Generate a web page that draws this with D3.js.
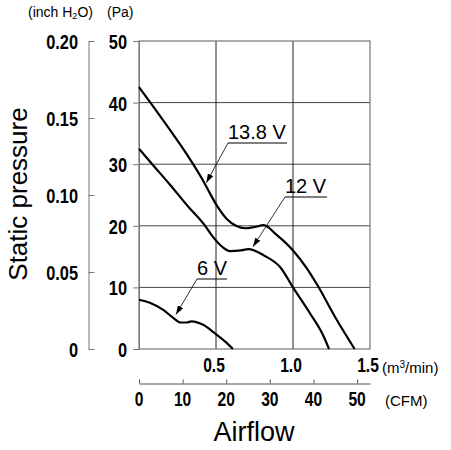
<!DOCTYPE html>
<html>
<head>
<meta charset="utf-8">
<script src="https://cdn.jsdelivr.net/npm/d3@7"></script>
<style>
body { margin: 0; background: #fff; }
text { font-family: "Liberation Sans", Arial, sans-serif; fill: #000; }
</style>
</head>
<body>
<svg id="chart" width="451" height="450"></svg>
<script>
// airflow in m3/min, static pressure in Pa
var airflow138 = [0, 0.1, 0.2, 0.3, 0.41, 0.46, 0.51, 0.57, 0.63, 0.69, 0.75, 0.81, 0.89, 1.0, 1.09, 1.16, 1.28, 1.40];
var pressure138 = [42.5, 39.1, 35.6, 32.0, 27.6, 25.3, 23.1, 21.1, 20.0, 19.6, 19.8, 20.1, 18.6, 16.0, 13.1, 10.3, 4.9, 0];

var airflow12 = [0, 0.1, 0.2, 0.32, 0.42, 0.48, 0.54, 0.59, 0.66, 0.71, 0.81, 0.92, 1.0, 1.11, 1.19, 1.234];
var pressure12 = [32.5, 29.6, 26.7, 23.1, 20.3, 18.2, 16.6, 15.9, 16.0, 16.2, 15.2, 13.2, 10.0, 5.8, 2.5, 0];

var airflow6 = [0, 0.07, 0.16, 0.22, 0.27, 0.31, 0.34, 0.42, 0.49, 0.56, 0.61];
var pressure6 = [8.0, 7.5, 6.3, 5.1, 4.3, 4.3, 4.5, 3.9, 2.6, 1.2, 0];

var curveNames = ["13.8 V", "12 V", "6 V"];

var paTicks = [0, 10, 20, 30, 40, 50];
var inchTicks = [0, 0.05, 0.10, 0.15, 0.20];
var inchLabels = ["0", "0.05", "0.10", "0.15", "0.20"];
var m3Ticks = [0.5, 1.0, 1.5];
var cfmTicks = [0, 10, 20, 30, 40, 50];

const svg = d3.select('#chart');
const squeeze = 0.78;

const x = d3.scaleLinear().domain([0, 1.5]).range([139, 370]);
const y = d3.scaleLinear().domain([0, 50]).range([349, 41]);
const yInch = d3.scaleLinear().domain([0, 0.2]).range([349, 41]);
const xCfm = d3.scaleLinear().domain([0, 1.5 * 35.31]).range([139, 370]);

// narrow digits like the datasheet font
function narrow(sel, dx, size) {
  sel.attr('x', dx / squeeze)
    .attr('transform', `scale(${squeeze},1)`)
    .style('font-size', (size || 21) + 'px')
    .style('font-weight', 'bold');
}

// ========= grid + frame ============
const grid = svg.append('g');
grid.selectAll('.hgrid').data(paTicks.slice(1, -1)).enter().append('line')
  .attr('x1', x(0)).attr('x2', x(1.5))
  .attr('y1', d => y(d)).attr('y2', d => y(d))
  .attr('stroke', '#444').attr('stroke-width', 1);
grid.selectAll('.vgrid').data(m3Ticks.slice(0, -1)).enter().append('line')
  .attr('x1', d => x(d)).attr('x2', d => x(d))
  .attr('y1', y(0)).attr('y2', y(50))
  .attr('stroke', '#222').attr('stroke-width', 1);
grid.append('rect')
  .attr('x', x(0)).attr('y', y(50))
  .attr('width', x(1.5) - x(0)).attr('height', y(0) - y(50))
  .attr('fill', 'none').attr('stroke', '#777').attr('stroke-width', 1.2);

// ========= Pa axis ============
const paAxis = svg.append('g')
  .attr('transform', `translate(${x(0)},0)`)
  .call(d3.axisLeft(y).tickValues(paTicks).tickSize(6).tickSizeOuter(0));
paAxis.select('.domain').attr('stroke', '#777');
paAxis.selectAll('.tick line').attr('stroke', '#777');
paAxis.selectAll('.tick text').call(narrow, -12).attr('dy', '0.36em');

// ========= inch H2O axis ============
const inchAxis = svg.append('g')
  .attr('transform', 'translate(88.5,0)')
  .call(d3.axisLeft(yInch).tickValues(inchTicks).tickSize(-6).tickSizeOuter(0)
    .tickFormat((d, i) => inchLabels[i]));
inchAxis.select('.domain').attr('stroke', '#777');
inchAxis.selectAll('.tick line').attr('stroke', '#777');
inchAxis.selectAll('.tick text').call(narrow, -10.5).attr('dy', '0.36em');

// ========= m3/min labels ============
svg.selectAll('.m3').data(m3Ticks).enter().append('text')
  .attr('text-anchor', 'middle')
  .attr('y', 372)
  .text(d => d.toFixed(1))
  .each(function(d) {
    d3.select(this).call(narrow, x(d) - 2, 20);
  });

// ========= CFM axis ============
const cfmAxis = svg.append('g')
  .attr('transform', 'translate(0,383.5)')
  .call(d3.axisTop(xCfm).tickValues(cfmTicks).tickSize(4).tickSizeOuter(0).tickFormat(''));
cfmAxis.select('.domain').attr('stroke', '#555').attr('stroke-width', 1.2);
cfmAxis.selectAll('.tick line').attr('stroke', '#555');
svg.selectAll('.cfm').data(cfmTicks).enter().append('text')
  .attr('text-anchor', 'middle')
  .attr('y', 406.5)
  .text(d => d)
  .each(function(d) {
    d3.select(this).call(narrow, xCfm(d), 20);
  });

// ========= unit labels ============
const head = svg.append('text').attr('x', 28).attr('y', 17).style('font-size', '14px');
head.append('tspan').text('(inch H');
head.append('tspan').text('2').style('font-size', '9px').attr('dy', 2);
head.append('tspan').text('O)').attr('dy', -2);
svg.append('text').attr('x', 107).attr('y', 17).style('font-size', '14px').text('(Pa)');

const m3unit = svg.append('text').attr('x', 382).attr('y', 373).style('font-size', '15px');
m3unit.append('tspan').text('(m');
m3unit.append('tspan').text('3').style('font-size', '10px').attr('dy', -5);
m3unit.append('tspan').text('/min)').attr('dy', 5);
svg.append('text').attr('x', 385).attr('y', 406).style('font-size', '15px').text('(CFM)');

svg.append('text')
  .attr('transform', 'translate(27,194) rotate(-90)')
  .attr('text-anchor', 'middle')
  .style('font-size', '26px')
  .text('Static pressure');
svg.append('text')
  .attr('x', 254).attr('y', 441)
  .attr('text-anchor', 'middle')
  .style('font-size', '27px')
  .text('Airflow');

// ========= curves ============
const line = d3.line()
  .x(d => x(d[0]))
  .y(d => y(d[1]))
  .curve(d3.curveMonotoneX);

const series = [
  d3.zip(airflow138, pressure138),
  d3.zip(airflow12, pressure12),
  d3.zip(airflow6, pressure6)
];
svg.selectAll('.fan').data(series).enter().append('path')
  .attr('d', line)
  .attr('fill', 'none')
  .attr('stroke', '#000')
  .attr('stroke-width', 2.2)
  .attr('stroke-linejoin', 'round');

// ========= callouts ============
svg.append('defs').append('marker')
  .attr('id', 'arrow')
  .attr('markerUnits', 'userSpaceOnUse')
  .attr('markerWidth', 9).attr('markerHeight', 6)
  .attr('refX', 9).attr('refY', 3)
  .attr('orient', 'auto')
  .append('path').attr('d', 'M0,0L9,3L0,6Z').attr('fill', '#000');

// tip = point on the curve, lx/ly = start of the underline, w = underline width
const callouts = [
  {name: curveNames[0], tip: [0.437, 27.0], lx: 228, ly: 143, w: 59},
  {name: curveNames[1], tip: [0.74, 16.6], lx: 285, ly: 197, w: 42},
  {name: curveNames[2], tip: [0.24, 5.6], lx: 197, ly: 279, w: 30}
];
const co = svg.selectAll('.callout').data(callouts).enter().append('g');
co.append('line')
  .attr('x1', d => d.lx).attr('y1', d => d.ly)
  .attr('x2', d => d.lx + d.w).attr('y2', d => d.ly)
  .attr('stroke', '#000').attr('stroke-width', 1);
co.append('line')
  .attr('x1', d => d.lx).attr('y1', d => d.ly)
  .attr('x2', d => x(d.tip[0])).attr('y2', d => y(d.tip[1]))
  .attr('stroke', '#000').attr('stroke-width', 0.8)
  .attr('marker-end', 'url(#arrow)');
co.append('text')
  .attr('x', d => d.lx).attr('y', d => d.ly - 4)
  .style('font-size', '20px')
  .text(d => d.name);
</script>
</body>
</html>
